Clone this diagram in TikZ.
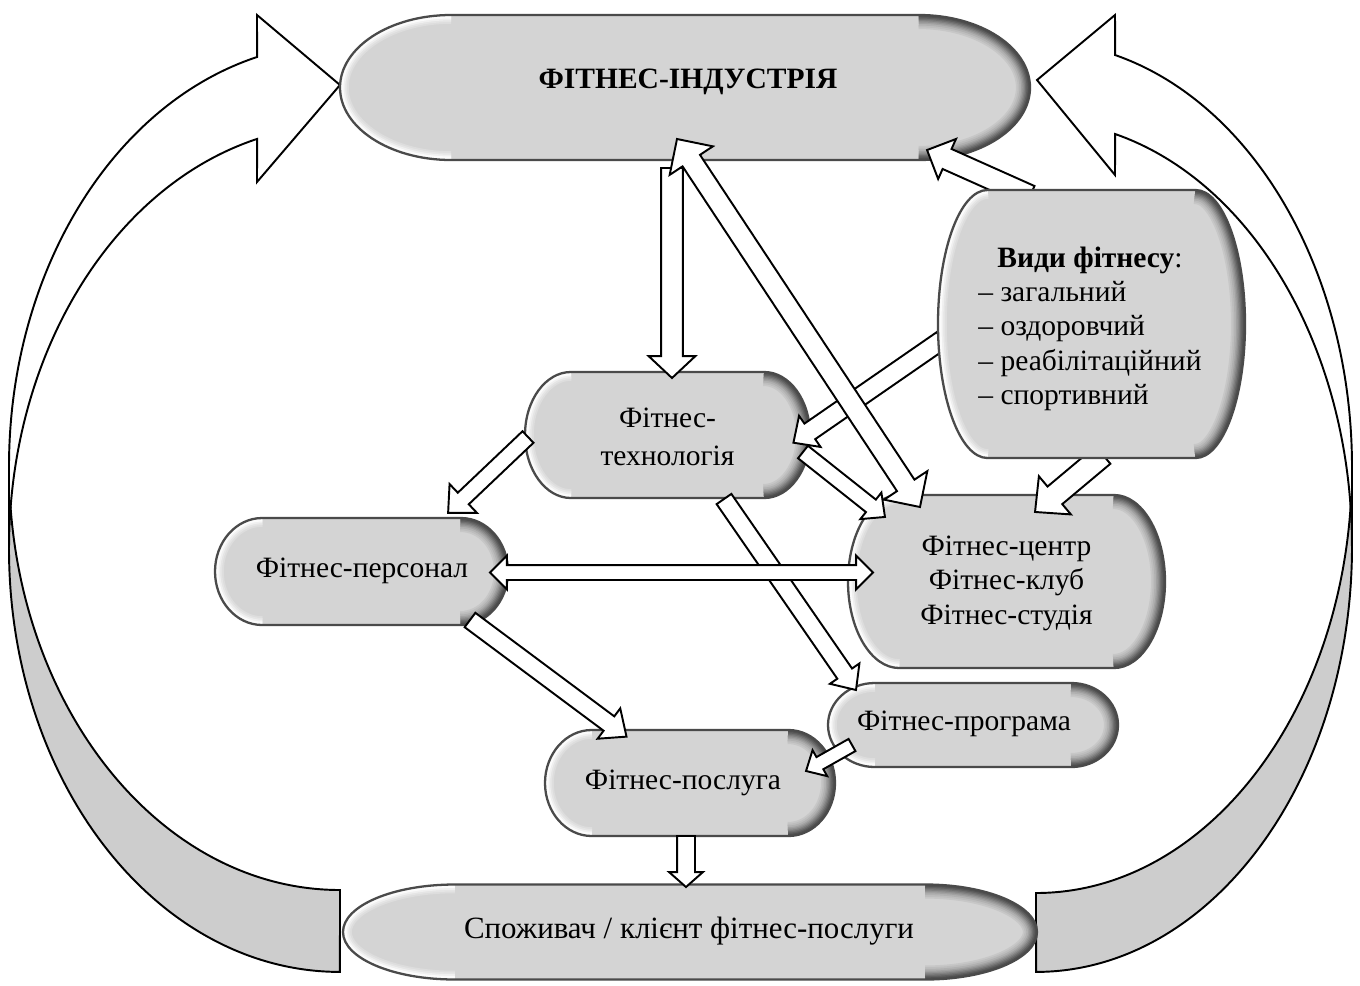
\documentclass[tikz,border=0pt]{standalone}
\usepackage{fontspec}
\setmainfont{Liberation Serif}
\usetikzlibrary{calc}
\definecolor{boxfill}{HTML}{D4D4D4}
\definecolor{boxedge}{HTML}{4A4A4A}
\definecolor{ribbongray}{HTML}{CDCDCD}
\def\px{0.566929pt}
\tikzset{
  ttext/.style={align=center, inner sep=0pt, font=\fontsize{16.8}{19.6}\selectfont},
  barrow/.style={draw=black, fill=white, line width=1.1pt, line join=miter},
  ribbonback/.style={draw=black, fill=ribbongray, line width=1.1pt},
  ribbonfront/.style={draw=black, fill=white, line width=1.1pt, line join=miter}
}
% terminator-like box with bevel: cx cy w h (pixels)
\newcommand\termshape[4]{%
  \pgfmathsetmacro\trx{0.161*#3*0.02}%
  \pgfmathsetmacro\try{#4/2*0.02}%
  \pgfmathsetmacro\txl{#1-#3/2+0.161*#3}%
  \pgfmathsetmacro\txr{#1+#3/2-0.161*#3}%
  \pgfmathsetmacro\tyt{#2-#4/2}%
  \pgfmathsetmacro\tyb{#2+#4/2}%
  \def\tpath{(\txl,\tyt) -- (\txr,\tyt)
    arc[start angle=90, end angle=-90, x radius=\trx cm, y radius=\try cm]
    -- (\txl,\tyb)
    arc[start angle=270, end angle=90, x radius=\trx cm, y radius=\try cm] -- cycle}%
  \def\tright{(\txr,\tyt) arc[start angle=90, end angle=-90, x radius=\trx cm, y radius=\try cm]}%
  \def\tleft{(\txl,\tyb) arc[start angle=270, end angle=90, x radius=\trx cm, y radius=\try cm]}%
  \fill[boxfill] \tpath;
  \begin{scope}
    \clip \tpath;
    \foreach \lw/\cc in {16/94,14/89,12/83,10/76,8.5/69,7/61,5.5/53,4/45,2.5/38}{%
      \draw[line width=\lw pt, boxfill!\cc!black] \tright;}
    \foreach \lw/\cc in {10/80,8/60,6/35,4/10}{%
      \draw[line width=\lw pt, boxfill!\cc!white] \tleft;}
  \end{scope}
  \draw[boxedge, line width=1.3pt] \tpath;
}
% single block arrow: from, to, shaft half, head half, head length (pixels)
\newcommand\sarrow[5]{%
  \path[barrow] let \p1=($(#2)-(#1)$), \n1={atan2(\y1,\x1)}, \n2={veclen(\x1,\y1)} in
   [shift={(#1)}, rotate=\n1]
   (0pt,-#3*\px) -- (\n2*1pt-#5*\px,-#3*\px) -- (\n2*1pt-#5*\px,-#4*\px) -- (\n2*1pt,0pt)
   -- (\n2*1pt-#5*\px,#4*\px) -- (\n2*1pt-#5*\px,#3*\px) -- (0pt,#3*\px) -- cycle;
}
% double block arrow
\newcommand\darrow[5]{%
  \path[barrow] let \p1=($(#2)-(#1)$), \n1={atan2(\y1,\x1)}, \n2={veclen(\x1,\y1)} in
   [shift={(#1)}, rotate=\n1]
   (#5*\px,-#3*\px) -- (\n2*1pt-#5*\px,-#3*\px) -- (\n2*1pt-#5*\px,-#4*\px) -- (\n2*1pt,0pt)
   -- (\n2*1pt-#5*\px,#4*\px) -- (\n2*1pt-#5*\px,#3*\px) -- (#5*\px,#3*\px) -- (#5*\px,#4*\px)
   -- (0pt,0pt) -- (#5*\px,-#4*\px) -- cycle;
}
\begin{document}
\begin{tikzpicture}[x=0.02cm, y=-0.02cm]
\useasboundingbox (0,0) rectangle (1360,985);

% curved ribbon arrows
\path[ribbonback] (9,548.7) arc[start angle=180, end angle=270, x radius=6.62cm, y radius=8.466cm]
  -- (340,890) arc[start angle=270, end angle=180, x radius=6.62cm, y radius=8.466cm] -- cycle;
\path[ribbonfront] (9,466.7) arc[start angle=180, end angle=104.5, x radius=6.62cm, y radius=8.466cm]
  -- (257,15) -- (340,85) -- (257,182) -- (257.1,138.9)
  arc[start angle=104.5, end angle=180, x radius=6.62cm, y radius=8.466cm] -- cycle;
\path[ribbonback] (1352,546.2) arc[start angle=0, end angle=-90, x radius=6.32cm, y radius=8.516cm]
  -- (1036,893) arc[start angle=-90, end angle=0, x radius=6.32cm, y radius=8.516cm] -- cycle;
\path[ribbonfront] (1352,467.2) arc[start angle=0, end angle=75.5, x radius=6.32cm, y radius=8.516cm]
  -- (1115,15) -- (1037,80) -- (1115,175) -- (1115.1,134.0)
  arc[start angle=75.5, end angle=0, x radius=6.32cm, y radius=8.516cm] -- cycle;

% boxes
\termshape{685}{87.5}{690}{145}
\node[ttext, font=\fontsize{16.8}{19.6}\selectfont\bfseries] (ind) at (688,82) {ФІТНЕС-ІНДУСТРІЯ};
\termshape{667.5}{435}{285}{126}
\node[ttext, font=\fontsize{16.8}{22}\selectfont] (tech) at (667.5,437) {Фітнес-\\технологія};
\termshape{361.5}{571.5}{293}{107}
\node[ttext] (pers) at (362,571) {Фітнес-персонал};
\termshape{1006.5}{581.5}{317}{173}
\node[ttext] (centr) at (1006.5,583) {Фітнес-центр\\Фітнес-клуб\\Фітнес-студія};
\termshape{973}{725}{290}{84}
\node[ttext] (prog) at (964,724) {Фітнес-програма};
\termshape{690}{783}{290}{106}
\node[ttext] (posl) at (683,783) {Фітнес-послуга};
\termshape{690}{932}{694}{95}
\node[ttext, font=\fontsize{17.6}{20}\selectfont] (spoz) at (689,931) {Споживач / клієнт фітнес-послуги};

% connector end points
\coordinate (a1s) at (672,168);   \coordinate (a1e) at (672,378);
\coordinate (a2s) at (677,139);   \coordinate (a2e) at (920,507);
\coordinate (a3s) at (1030,196);  \coordinate (a3e) at (927,150);
\coordinate (a4s) at (942,340);   \coordinate (a4e) at (793,443);
\coordinate (a5s) at (528,437);   \coordinate (a5e) at (448,513);
\coordinate (a6s) at (803,452);   \coordinate (a6e) at (885,517);
\coordinate (a7s) at (724,499);   \coordinate (a7e) at (856,690);
\coordinate (a8s) at (490,572.5); \coordinate (a8e) at (873,572.5);
\coordinate (a9s) at (470,620);   \coordinate (a9e) at (627,737);
\coordinate (a10s) at (852,745);  \coordinate (a10e) at (806,771);
\coordinate (a11s) at (1103,455); \coordinate (a11e) at (1035,512);
\coordinate (a12s) at (686,836);  \coordinate (a12e) at (686,887);

% block arrows
\sarrow{a4s}{a4e}{9.5}{19}{20}
\sarrow{a7s}{a7e}{9}{18}{20}
\sarrow{a6s}{a6e}{8}{17}{18}
\sarrow{a3s}{a3e}{11}{22}{22}
\sarrow{a11s}{a11e}{11.5}{25}{26}
\sarrow{a5s}{a5e}{8}{20}{21}
\sarrow{a9s}{a9e}{9}{19}{22}
\sarrow{a10s}{a10e}{7}{15}{16}
\sarrow{a12s}{a12e}{9}{17}{15}
\sarrow{a1s}{a1e}{11}{23.5}{22}
\darrow{a8s}{a8e}{7.5}{17}{17}
\darrow{a2s}{a2e}{10.5}{26}{26}

% kinds of fitness (drawn on top of arrow tails)
\termshape{1091.5}{324}{307}{268}
\node[ttext] (vydy) at (1090,329) {\begin{tabular}{@{}l@{}}\multicolumn{1}{@{}c@{}}{\textbf{Види фітнесу}:}\\– загальний\\– оздоровчий\\– реабілітаційний\\– спортивний\end{tabular}};
\end{tikzpicture}
\end{document}
